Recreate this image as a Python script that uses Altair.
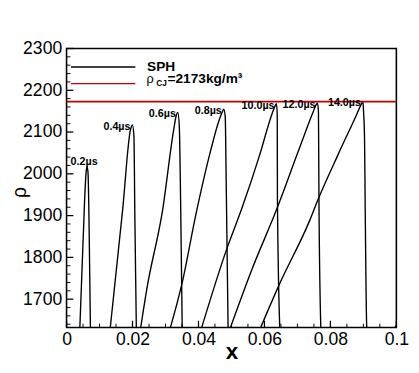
import altair as alt
import pandas as pd

# ---------------- data ----------------
x_ticks_major = [0, 0.02, 0.04, 0.06, 0.08, 0.1]
x_ticks_minor = [0.005, 0.01, 0.015, 0.025, 0.03, 0.035, 0.045, 0.05, 0.055,
                 0.065, 0.07, 0.075, 0.085, 0.09, 0.095]
y_ticks_major = [1700, 1800, 1900, 2000, 2100, 2200, 2300]
y_ticks_minor = [1640, 1660, 1680, 1720, 1740, 1760, 1780, 1820, 1840, 1860, 1880,
                 1920, 1940, 1960, 1980, 2020, 2040, 2060, 2080, 2120, 2140, 2160,
                 2180, 2220, 2240, 2260, 2280]

rho_cj = 2173

t02_x = [0.0040, 0.00548, 0.00592, 0.00622, 0.00651, 0.00681, 0.00725]
t02_y = [1625, 1938, 2003, 2018, 2003, 1891, 1625]

t04_x = [0.01317, 0.01702, 0.01939, 0.01998, 0.02043, 0.02072, 0.02117]
t04_y = [1625, 1915, 2106, 2117, 2090, 1891, 1625]

t06_x = [0.02235, 0.02442, 0.02916, 0.03242, 0.03330, 0.03375, 0.03419, 0.03458, 0.03508]
t06_y = [1625, 1728, 1915, 2102, 2141, 2147, 2113, 1938, 1625]

t08_x = [0.03123, 0.03508, 0.03922, 0.04367, 0.04633, 0.04722, 0.04766, 0.04811, 0.04840, 0.04899]
t08_y = [1625, 1740, 1903, 2055, 2130, 2148, 2155, 2137, 1985, 1625]

t10_x = [0.04070, 0.04861, 0.05305, 0.05847, 0.06232, 0.06320, 0.06365, 0.06388, 0.06394, 0.06468]
t10_y = [1625, 1821, 1915, 2043, 2144, 2162, 2168, 2141, 1938, 1625]

t12_x = [0.04938, 0.05640, 0.06371, 0.07031, 0.07475, 0.07564, 0.07608, 0.07638, 0.07653, 0.07712]
t12_y = [1625, 1775, 1915, 2055, 2148, 2165, 2170, 2148, 1938, 1625]

t14_x = [0.05847, 0.06439, 0.07386, 0.07623, 0.08215, 0.08807, 0.08926, 0.08985,
         0.09006, 0.09035, 0.09053, 0.09103, 0.0912, 0.0985, 0.1]
t14_y = [1625, 1733, 1891, 1938, 2043, 2144, 2165, 2173,
         2148, 2086, 1938, 1632, 1625, 1625, 1637]

series_names = ["0.2", "0.4", "0.6", "0.8", "10.0", "12.0", "14.0"]
series_x = [t02_x, t04_x, t06_x, t08_x, t10_x, t12_x, t14_x]
series_y = [t02_y, t04_y, t06_y, t08_y, t10_y, t12_y, t14_y]

label_text = ["0.4µs", "0.6µs", "0.8µs", "10.0µs", "12.0µs", "14.0µs"]
label_x = [0.01998, 0.03375, 0.04766, 0.06365, 0.07608, 0.08985]
label_y = [2117, 2147, 2155, 2168, 2170, 2173]
first_label = ["0.2µs"]
first_x = [0.00622]
first_y = [2018]

# ---------------- build ----------------
W, H = 338, 286
FONT = "Liberation Sans"

rows = []
for name, xv, yv in zip(series_names, series_x, series_y):
    for i, (a, b) in enumerate(zip(xv, yv)):
        rows.append({"series": name, "i": i, "x": a, "y": b})
df = pd.DataFrame(rows)

xs = alt.Scale(domain=[0, 0.1], nice=False, zero=False)
ys = alt.Scale(domain=[1632, 2300], nice=False, zero=False)

x_axis = alt.Axis(
    values=x_ticks_major, format="~g", ticks=False, tickSize=0, domain=False, grid=False,
    labelFontSize=18, labelFont=FONT, labelColor="black", labelPadding=3,
    labelFlush=False, labelOverlap=False, labelBound=False,
    title="x", titleFont=FONT, titleFontSize=23, titleFontWeight="bold",
    titleColor="black", titleY=32, titleBaseline="alphabetic")
y_axis = alt.Axis(
    values=y_ticks_major, format="d", ticks=False, tickSize=0, domain=False, grid=False,
    labelFontSize=18, labelFont=FONT, labelColor="black", labelPadding=5,
    labelOverlap=False, labelBound=False, labelFlush=False,
    title="ρ", titleFont=FONT, titleFontSize=20, titleFontWeight="normal",
    titleColor="black", titleAngle=270, titleX=-42, titleY=147,
    titleBaseline="alphabetic")

def XQ():
    return alt.X("x:Q", scale=xs, axis=x_axis)

def YQ():
    return alt.Y("y:Q", scale=ys, axis=y_axis)

lines = alt.Chart(df).mark_line(
    color="black", strokeWidth=1.4, clip=True, interpolate="monotone"
).encode(x=XQ(), y=YQ(), detail="series:N", order="i:Q")

red = alt.Chart(pd.DataFrame({"y": [rho_cj]})).mark_rule(
    color="#c00000", strokeWidth=1.8
).encode(y=YQ())

def xtick(vals, length, sw):
    return alt.Chart(pd.DataFrame({"x": vals})).mark_rule(color="black", strokeWidth=sw).encode(
        x=XQ(), y=alt.value(H), y2=alt.value(H - length))

def ytick(vals, length, sw):
    return alt.Chart(pd.DataFrame({"y": vals})).mark_rule(color="black", strokeWidth=sw).encode(
        y=YQ(), x=alt.value(0), x2=alt.value(length))

labels = alt.Chart(pd.DataFrame({"t": label_text, "x": label_x, "y": label_y})).mark_text(
    align="right", baseline="alphabetic", dx=-2, dy=5, font=FONT, fontSize=11,
    fontWeight="bold", color="black"
).encode(x=XQ(), y=YQ(), text="t:N")

label0 = alt.Chart(pd.DataFrame({"t": first_label, "x": first_x, "y": first_y})).mark_text(
    align="center", baseline="alphabetic", dx=-3, dy=-1, font=FONT, fontSize=11,
    fontWeight="bold", color="black"
).encode(x=XQ(), y=YQ(), text="t:N")

dummy = pd.DataFrame({"a": [0]})
leg_black = alt.Chart(dummy).mark_rule(color="black", strokeWidth=1.5).encode(
    x=alt.value(4.5), x2=alt.value(70.5), y=alt.value(19))
leg_red = alt.Chart(dummy).mark_rule(color="#c00000", strokeWidth=1.5).encode(
    x=alt.value(4.5), x2=alt.value(70.5), y=alt.value(36))
leg_sph = alt.Chart(dummy).mark_text(
    text="SPH", align="left", baseline="alphabetic", font=FONT, fontSize=14,
    fontWeight="bold", color="black").encode(x=alt.value(82.5), y=alt.value(23.5))
leg_rho = alt.Chart(dummy).mark_text(
    text="ρ", align="left", baseline="alphabetic", font=FONT, fontSize=13,
    fontWeight="normal", color="black").encode(x=alt.value(82), y=alt.value(35))
leg_cj = alt.Chart(dummy).mark_text(
    text="CJ", align="left", baseline="alphabetic", font=FONT, fontSize=8.5,
    fontWeight="bold", color="black").encode(x=alt.value(92), y=alt.value(38.5))
leg_val = alt.Chart(dummy).mark_text(
    text="=2173kg/m³", align="left", baseline="alphabetic", font=FONT, fontSize=14,
    fontWeight="bold", color="black").encode(x=alt.value(103.5), y=alt.value(35))

chart = alt.layer(
    lines, red,
    xtick(x_ticks_major, 7, 1.3), xtick(x_ticks_minor, 4, 1.0),
    ytick(y_ticks_major, 7, 1.3), ytick(y_ticks_minor, 4, 1.0),
    labels, label0,
    leg_black, leg_red, leg_sph, leg_rho, leg_cj, leg_val,
).properties(
    width=W, height=H,
    background="white",
    padding={"left": 60, "top": 37, "right": 15, "bottom": 40},
    autosize=alt.AutoSizeParams(type="none"),
).configure_view(stroke="black", strokeWidth=1.6)

chart.save("out.html", embed_options={"renderer": "svg", "actions": False})
